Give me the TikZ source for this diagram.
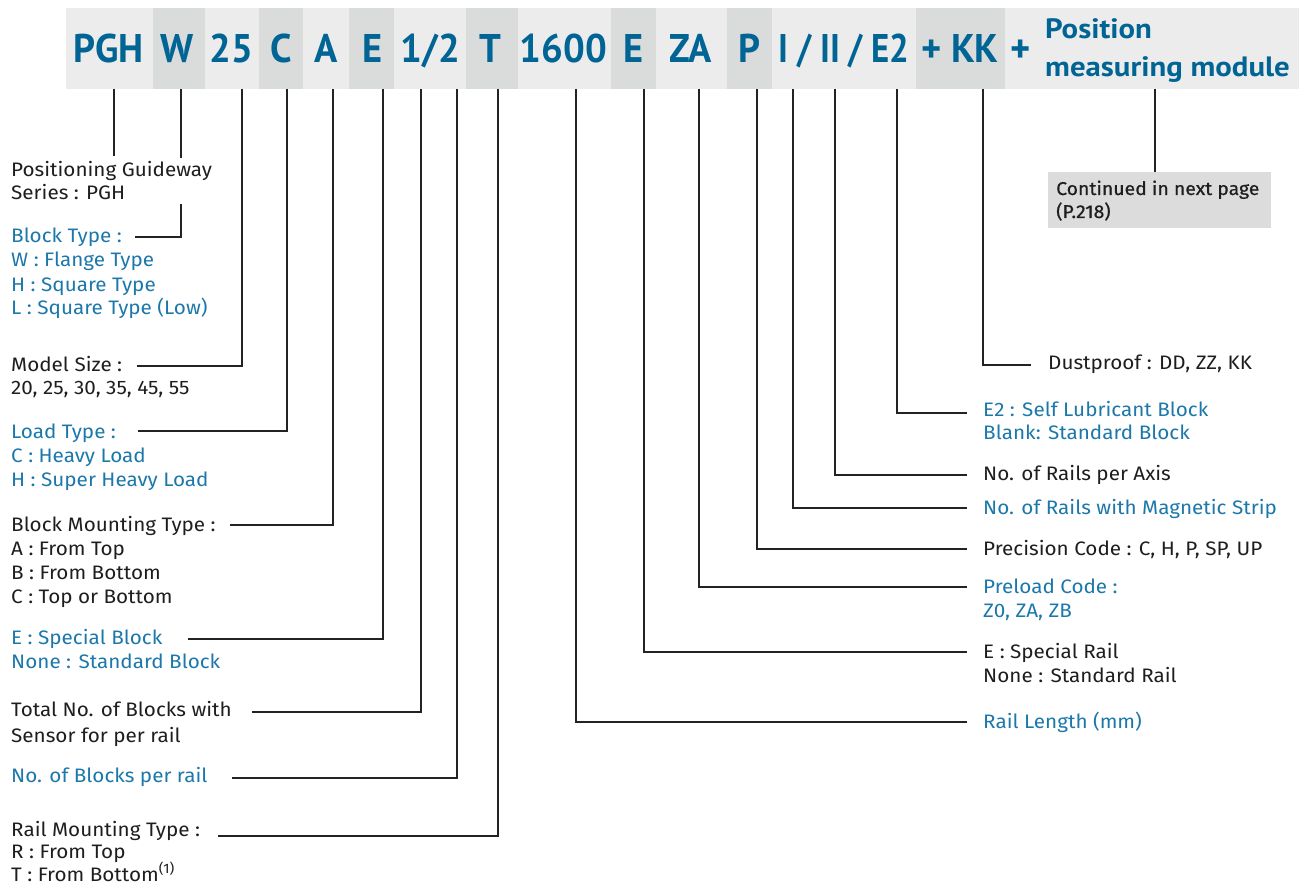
\documentclass[tikz,border=0pt]{standalone}
\usepackage{fontspec}
\setmainfont[FakeStretch=1.06]{Fira Sans}
\newfontfamily\hdrfont[FakeStretch=0.96]{PT Sans}
\newfontfamily\hdrnfont[FakeStretch=0.87]{PT Sans}
\newfontfamily\hdrsfont[FakeStretch=1.1]{PT Sans}
\newfontfamily\medfont[FakeBold=0.6,FakeStretch=1.05]{Fira Sans}
\definecolor{hdrblue}{RGB}{0,100,148}
\definecolor{lblue}{RGB}{28,120,170}
\definecolor{txtblack}{RGB}{30,30,30}
\definecolor{celllight}{RGB}{236,236,236}
\definecolor{celldark}{RGB}{218,220,220}
\definecolor{boxgray}{RGB}{220,220,220}
\definecolor{linecol}{RGB}{35,35,35}
\newcommand{\ml}[2][24]{\vtop{\baselineskip=#1pt\lineskiplimit=-1000pt #2}}
\tikzset{
  hdr/.style={anchor=base, inner sep=0pt, text=hdrblue, font=\hdrfont\bfseries\fontsize{40}{40}\selectfont},
  hdrsmall/.style={anchor=base west, inner sep=0pt, text=hdrblue, font=\hdrsfont\bfseries\fontsize{28}{28}\selectfont},
  lbl/.style={anchor=base west, inner sep=0pt, text=txtblack, font=\fontsize{19.5}{24}\selectfont},
  blbl/.style={lbl, text=lblue},
  conn/.style={draw=linecol, line width=1.3pt},
}
\begin{document}
\begin{tikzpicture}[x=1pt,y=-1pt]
\useasboundingbox (0,0) rectangle (1305,885);
% header cells
\fill[celllight] (66,8) rectangle (153,89);
\fill[celldark] (153,8) rectangle (205,89);
\fill[celllight] (205,8) rectangle (259,89);
\fill[celldark] (259,8) rectangle (303,89);
\fill[celllight] (303,8) rectangle (349,89);
\fill[celldark] (349,8) rectangle (394,89);
\fill[celllight] (394,8) rectangle (466,89);
\fill[celldark] (466,8) rectangle (518,89);
\fill[celllight] (518,8) rectangle (611,89);
\fill[celldark] (611,8) rectangle (656,89);
\fill[celllight] (656,8) rectangle (727,89);
\fill[celldark] (727,8) rectangle (772,89);
\fill[celllight] (772,8) rectangle (916,89);
\fill[celldark] (916,8) rectangle (1005,89);
\fill[celllight] (1005,8) rectangle (1299,89);
% header texts
\node[hdr] (hPGH) at (108.5,63) {PGH};
\node[hdr] (hW) at (177.5,63) {W};
\node[hdr] (h25) at (231.5,63) {25};
\node[hdr] (hC) at (281,63) {C};
\node[hdr] (hA) at (326,63) {A};
\node[hdr] (hE) at (372.5,63) {E};
\node[hdr] (hHalf) at (430.5,63) {1/2};
\node[hdr] (hT) at (490,63) {T};
\node[hdr] (h1600) at (563.5,63) {1600};
\node[hdr] (hER) at (633.5,63) {E};
\node[hdr] (hZA) at (690.5,63) {ZA};
\node[hdr] (hP) at (749.5,63) {P};
\node[hdr, font=\hdrnfont\bfseries\fontsize{40}{40}\selectfont] (hI) at (844,63) {I / II / E2};
\node[hdr] (hKK) at (960,63) {+ KK};
\node[hdr] (hPlus) at (1020.5,63) {+};
\node[hdrsmall] (hPos) at (1045,39) {Position};
\node[hdrsmall] (hMeas) at (1045,77) {measuring module};
% connector tops
\coordinate (tPGH) at (114,89);
\coordinate (tW) at (181,89);
\coordinate (t25) at (242,89);
\coordinate (tC) at (287,89);
\coordinate (tA) at (333,89);
\coordinate (tE) at (383,89);
\coordinate (tHa) at (421,89);
\coordinate (tHb) at (457,89);
\coordinate (tT) at (498,89);
\coordinate (t1600) at (576,89);
\coordinate (tER) at (644,89);
\coordinate (tZA) at (699,89);
\coordinate (tP) at (757,89);
\coordinate (tI) at (793,89);
\coordinate (tII) at (835,89);
\coordinate (tE2) at (897,89);
\coordinate (tKK) at (983,89);
\coordinate (tPos) at (1155,89);
% connector ends
\coordinate (ePGH) at (114,156);
\coordinate (eW) at (135,237);
\coordinate (e25) at (137,366);
\coordinate (eC) at (138,431);
\coordinate (eA) at (230,525);
\coordinate (eE) at (188,639);
\coordinate (eHa) at (252,712);
\coordinate (eHb) at (232,778);
\coordinate (eT) at (218,836);
\coordinate (e1600) at (967,722);
\coordinate (eER) at (967,652);
\coordinate (eZA) at (967,587);
\coordinate (eP) at (967,549);
\coordinate (eI) at (967,508);
\coordinate (eII) at (967,475);
\coordinate (eE2) at (967,413);
\coordinate (eKK) at (1031,365);
% continued box
\node[fill=boxgray, inner sep=0pt, minimum width=223pt, minimum height=56pt, anchor=north west] (cont) at (1048,172) {};
% connectors
\draw[conn] (tPGH) -- (ePGH);
\draw[conn] (tW) |- (eW);
\draw[conn] (t25) |- (e25);
\draw[conn] (tC) |- (eC);
\draw[conn] (tA) |- (eA);
\draw[conn] (tE) |- (eE);
\draw[conn] (tHa) |- (eHa);
\draw[conn] (tHb) |- (eHb);
\draw[conn] (tT) |- (eT);
\draw[conn] (t1600) |- (e1600);
\draw[conn] (tER) |- (eER);
\draw[conn] (tZA) |- (eZA);
\draw[conn] (tP) |- (eP);
\draw[conn] (tI) |- (eI);
\draw[conn] (tII) |- (eII);
\draw[conn] (tE2) |- (eE2);
\draw[conn] (tKK) |- (eKK);
\draw[conn] (tPos) -- (tPos |- cont.north);
% left labels
\node[lbl, fill=white, inner ysep=4pt] (lSeries) at (11,177) {\ml[23]{\hbox{Positioning Guideway}\hbox{Series : PGH}}};
\node[blbl] (lBlock) at (11,243) {\ml{\hbox{Block Type :}\hbox{W : Flange Type}\hbox{H : Square Type}\hbox{L : Square Type (Low)}}};
\node[lbl] (lSize) at (11,371) {\ml[23]{\hbox{Model Size :}\hbox{20, 25, 30, 35, 45, 55}}};
\node[blbl] (lLoad) at (11,438) {\ml{\hbox{Load Type :}\hbox{C : Heavy Load}\hbox{H : Super Heavy Load}}};
\node[lbl] (lMount) at (11,531) {\ml{\hbox{Block Mounting Type :}\hbox{A : From Top}\hbox{B : From Bottom}\hbox{C : Top or Bottom}}};
\node[blbl] (lSpecial) at (11,644) {\ml{\hbox{E : Special Block}\hbox{None : Standard Block}}};
\node[lbl] (lSensor) at (11,716) {\ml[26]{\hbox{Total No. of Blocks with}\hbox{Sensor for per rail}}};
\node[blbl] (lNum) at (11,782) {No. of Blocks per rail};
\node[lbl] (lRail) at (11,836) {\ml[22.5]{\hbox{Rail Mounting Type :}\hbox{R : From Top}\hbox{T : From Bottom\textsuperscript{(1)}}}};
% right labels
\node[lbl] (rDust) at (1048,369) {Dustproof : DD, ZZ, KK};
\node[blbl] (rE2) at (983,416) {\ml[23]{\hbox{E2 : Self Lubricant Block}\hbox{Blank: Standard Block}}};
\node[lbl] (rAxis) at (983,480) {No. of Rails per Axis};
\node[blbl] (rMag) at (983,514) {No. of Rails with Magnetic Strip};
\node[lbl] (rPrec) at (983,555) {Precision Code : C, H, P, SP, UP};
\node[blbl] (rPre) at (983,593) {\ml{\hbox{Preload Code :}\hbox{Z0, ZA, ZB}}};
\node[lbl] (rRail) at (983,658) {\ml{\hbox{E : Special Rail}\hbox{None : Standard Rail}}};
\node[blbl] (rLen) at (983,728) {Rail Length (mm)};
\node[lbl, font=\medfont\fontsize{18.5}{23}\selectfont] (contText) at (1056,195) {\ml[23]{\hbox{Continued in next page}\hbox{(P.218)}}};
\end{tikzpicture}
\end{document}
